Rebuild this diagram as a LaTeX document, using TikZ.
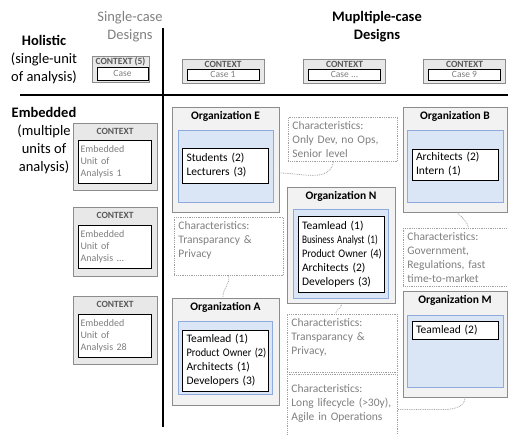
\documentclass[tikz,border=0pt]{standalone}
\usepackage{fontspec}
\setmainfont{Carlito}
\usepackage{graphicx}
\usetikzlibrary{positioning}

\definecolor{txtgray}{HTML}{7F7F7F}
\definecolor{ctxtext}{HTML}{595959}
\definecolor{orgfill}{HTML}{F2F2F2}
\definecolor{orgline}{HTML}{8C8C8C}
\definecolor{ctxfill}{HTML}{E8E8E8}
\definecolor{unitfill}{HTML}{DAE5F6}
\definecolor{unitline}{HTML}{8FAADC}
\definecolor{dotline}{HTML}{A0A0A0}

\newcommand{\hdfont}{\fontsize{14.5}{18}\selectfont}
\newcommand{\boxfont}{\fontsize{11.5}{14}\selectfont}
\newcommand{\ctxfont}{\fontsize{9.5}{11}\selectfont}
\newcommand{\eufont}{\fontsize{10}{12}\selectfont}
\newcommand{\squeeze}[2]{\scalebox{#1}[1]{#2}}

\begin{document}
\begin{tikzpicture}[x=1pt,y=-1pt,
   header/.style={align=center,font=\hdfont},
   org/.style={draw=orgline,fill=orgfill,line width=1pt},
   orgtitle/.style={anchor=north,font=\boxfont\bfseries,inner sep=4.5pt},
   unit/.style={draw=unitline,fill=unitfill,line width=1pt},
   members/.style={draw=black,fill=white,line width=0.8pt,align=left,
                   text width=78pt,inner xsep=4pt,inner ysep=2pt,font=\boxfont},
   chars/.style={draw=dotline,densely dotted,line width=0.8pt,anchor=north west,
                 align=left,text=txtgray,font=\boxfont,inner xsep=4pt,inner ysep=4pt},
   ctx/.style={draw=orgline,fill=ctxfill,line width=0.8pt},
   ctxtitle/.style={anchor=north,font=\ctxfont\bfseries,text=ctxtext,inner sep=2pt},
   ctxcase/.style={draw=black,fill=white,line width=0.8pt,text=txtgray,
                   font=\ctxfont,inner sep=0pt},
   link/.style={draw=dotline,densely dotted,line width=0.8pt}]
   \useasboundingbox (0,0) rectangle (508,434);

   % headers
   \node[header,text=txtgray] (single) at (130,27) {Single-case\\Designs};
   \node[header,font=\hdfont\bfseries] (multi) at (377,27) {Mupltiple-case\\Designs};
   \node[header] (holistic) at (44,60) {\textbf{Holistic}\\(single-unit\\of analysis)};
   \node[header] (embedded) at (44,141) {\textbf{Embedded}\\(multiple\\units of\\analysis)};

   \draw[line width=1.2pt] (163,28) -- (163,427);
   \draw[line width=1.2pt] (20,95) -- (508,95);

   % holistic contexts
   \node[ctx,minimum width=57,minimum height=26,label={[ctxtitle]north:CONTEXT (5)}] (ctxS) at (120.5,69) {};
   \node[ctxcase,minimum width=51,minimum height=13,below=11pt of ctxS.north,xshift=2pt] (caseS) {Case};
   \node[ctx,minimum width=82,minimum height=24,label={[ctxtitle]north:CONTEXT}] (ctx1) at (223,71) {};
   \node[ctxcase,minimum width=72,minimum height=11,below=10pt of ctx1.north] (case1) {Case 1};
   \node[ctx,minimum width=82,minimum height=24,label={[ctxtitle]north:CONTEXT}] (ctxD) at (344.5,71) {};
   \node[ctxcase,minimum width=72,minimum height=11,below=10pt of ctxD.north] (caseD) {Case ...};
   \node[ctx,minimum width=82,minimum height=24,label={[ctxtitle]north:CONTEXT}] (ctx9) at (464.5,71) {};
   \node[ctxcase,minimum width=72,minimum height=11,below=10pt of ctx9.north] (case9) {Case 9};

   % embedded contexts
   \node[ctx,minimum width=84,minimum height=67,label={[ctxtitle,yshift=-3pt]north:CONTEXT}] (ctxA) at (115,156.5) {};
   \node[ctxcase,align=left,text width=69pt,inner xsep=2pt,minimum height=43,font=\eufont,below=17pt of ctxA.north] (euA) {Embedded\\Unit of\\Analysis 1};
   \node[ctx,minimum width=84,minimum height=69,label={[ctxtitle,yshift=-3pt]north:CONTEXT}] (ctxB) at (115,241.5) {};
   \node[ctxcase,align=left,text width=69pt,inner xsep=2pt,minimum height=43,font=\eufont,below=18pt of ctxB.north] (euB) {Embedded\\Unit of\\Analysis ...};
   \node[ctx,minimum width=84,minimum height=68,label={[ctxtitle,yshift=-3pt]north:CONTEXT}] (ctxC) at (115,330) {};
   \node[ctxcase,align=left,text width=69pt,inner xsep=2pt,minimum height=43,font=\eufont,below=18pt of ctxC.north] (euC) {Embedded\\Unit of\\Analysis 28};

   % organizations
   \node[org,minimum width=107,minimum height=105,label={[orgtitle]north:Organization E}] (orgE) at (225.5,159.5) {};
   \node[unit,minimum width=95,minimum height=72,below=23pt of orgE.north] (unitE) {};
   \node[members,minimum height=35,below=18pt of unitE.north] (memE) {Students (2)\\Lecturers (3)};

   \node[org,minimum width=107,minimum height=107,label={[orgtitle]north:Organization A}] (orgA) at (225.5,351.5) {};
   \node[unit,minimum width=94,minimum height=73,below=23pt of orgA.north] (unitA) {};
   \node[members,minimum height=61,below=9pt of unitA.north] (memA) {Teamlead (1)\\\squeeze{0.9}{Product Owner (2)}\\Architects (1)\\Developers (3)};

   \node[org,minimum width=108,minimum height=116,label={[orgtitle]north:Organization N}] (orgN) at (341,245) {};
   \node[unit,minimum width=95,minimum height=89,below=22pt of orgN.north] (unitN) {};
   \node[members,minimum height=76,below=7pt of unitN.north] (memN) {Teamlead (1)\\\squeeze{0.8}{Business Analyst (1)}\\\squeeze{0.9}{Product Owner (4)}\\Architects (2)\\Developers (3)};

   \node[org,minimum width=104,minimum height=105,label={[orgtitle]north:Organization B}] (orgB) at (455,159.5) {};
   \node[unit,minimum width=96,minimum height=72,below=23pt of orgB.north] (unitB) {};
   \node[members,minimum height=31,below=19pt of unitB.north] (memB) {Architects (2)\\Intern (1)};

   \node[org,minimum width=104,minimum height=106,label={[orgtitle]north:Organization M}] (orgM) at (455,344) {};
   \node[unit,minimum width=96,minimum height=72,below=24pt of orgM.north] (unitM) {};
   \node[members,minimum height=18,below=6pt of unitM.north] (memM) {Teamlead (2)};

   % characteristics
   \node[chars,text width=101pt] (charE) at (288,117) {Characteristics:\\Only Dev, no Ops,\\Senior level};
   \node[chars,text width=101pt] (charT) at (174,217) {Characteristics:\\Transparancy \&\\Privacy\\\mbox{}};
   \node[chars,text width=102pt] (charN) at (287,314) {Characteristics:\\Transparancy \&\\Privacy,\\\mbox{}};
   \node[chars,text width=102pt,minimum height=70] (charL) at (287,374) {Characteristics:\\Long lifecycle (>30y),\\Agile in Operations\\\mbox{}};
   \node[chars,text width=110pt] (charB) at (403,228) {Characteristics:\\Government,\\Regulations, fast\\time-to-market};

   \draw[link] ([yshift=-13.5pt]orgE.east) to[out=0,in=-100] ([xshift=-9.5pt]charE.south);
   \draw[link] ([xshift=-0.5pt]charT.south) to[out=-75,in=95] ([xshift=-2.5pt]orgA.north);
   \draw[link] ([xshift=1pt]orgN.south) to[out=-100,in=75] ([xshift=-7pt]charN.north);
   \draw[link] ([xshift=2pt]orgB.south) to[out=-45,in=100] ([xshift=6pt]charB.north);
   \draw[link] ([xshift=10pt]orgM.south) to[out=-90,in=0] ++(-20,12) -- (charL.east);
\end{tikzpicture}
\end{document}
